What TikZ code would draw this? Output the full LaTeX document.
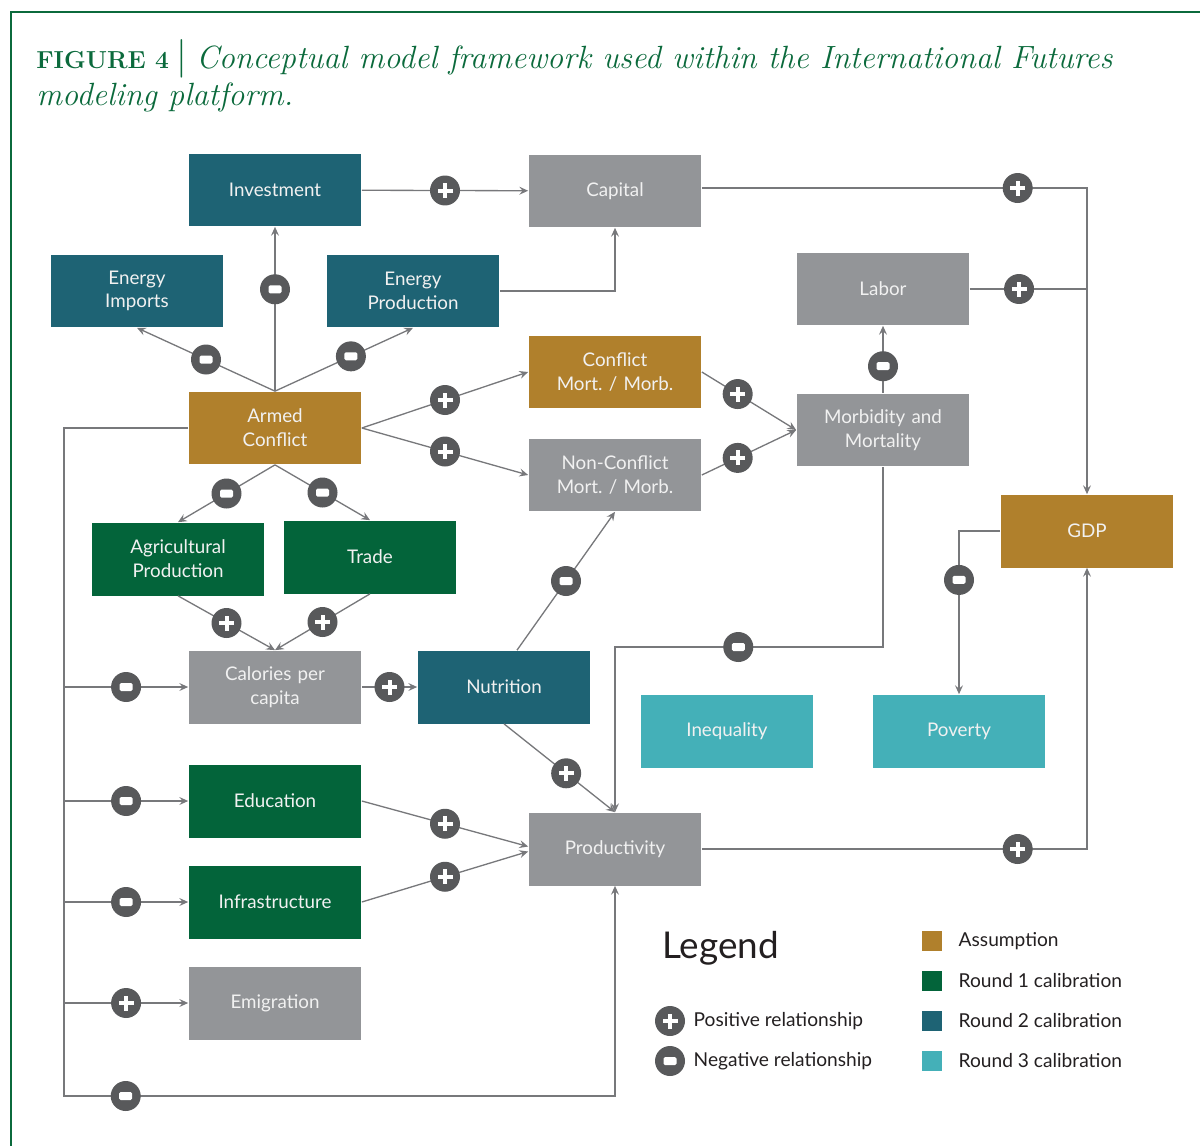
\documentclass[tikz,border=0pt]{standalone}
\usepackage{fontspec}
\newfontfamily\labelfont{Lato}
\usetikzlibrary{positioning,arrows.meta}

\definecolor{assumption}{HTML}{B0802C}
\definecolor{roundone}{HTML}{03643A}
\definecolor{roundtwo}{HTML}{1E6374}
\definecolor{roundthree}{HTML}{44B0B8}
\definecolor{varbox}{HTML}{939598}
\definecolor{signgray}{HTML}{58595B}
\definecolor{linkgray}{HTML}{77787B}
\definecolor{titlegreen}{HTML}{0B6A3C}
\definecolor{boxtext}{HTML}{F1F1F1}
\definecolor{legendtext}{HTML}{231F20}

\begin{document}
\begin{tikzpicture}[x=0.02cm,y=-0.02cm,>={Stealth[length=5pt,width=4.5pt,inset=1.8pt]}]
  \tikzstyle{box}=[rectangle, minimum width=3.46cm, minimum height=1.46cm, text width=3.2cm,
    align=center, inner sep=0pt, text=boxtext, font=\labelfont\fontsize{10.7}{13.5}\selectfont\frenchspacing]
  \tikzstyle{assume}=[box, fill=assumption]
  \tikzstyle{round1}=[box, fill=roundone]
  \tikzstyle{round2}=[box, fill=roundtwo]
  \tikzstyle{round3}=[box, fill=roundthree]
  \tikzstyle{grey}=[box, fill=varbox]
  \tikzstyle{sign}=[circle, fill=signgray, minimum size=0.6cm, inner sep=0pt]
  \tikzstyle{plus}=[sign, path picture={
      \fill[white] ([xshift=-0.15cm,yshift=-0.04cm]path picture bounding box.center) rectangle ([xshift=0.15cm,yshift=0.04cm]path picture bounding box.center);
      \fill[white] ([xshift=-0.04cm,yshift=-0.15cm]path picture bounding box.center) rectangle ([xshift=0.04cm,yshift=0.15cm]path picture bounding box.center);}]
  \tikzstyle{minus}=[sign, path picture={
      \fill[white, rounded corners=0.03cm] ([xshift=-0.13cm,yshift=-0.08cm]path picture bounding box.center) rectangle ([xshift=0.13cm,yshift=0.08cm]path picture bounding box.center);}]
  \tikzstyle{wire}=[draw=linkgray, line width=0.75pt]
  \tikzstyle{link}=[wire, ->]
  \tikzstyle{legend text}=[inner sep=0pt, text=legendtext, font=\labelfont\fontsize{10.9}{13}\selectfont]
  \tikzstyle{swatch}=[rectangle, minimum size=0.4cm, inner sep=0pt]

  \useasboundingbox (0,0) rectangle (1200,1146);

  % frame and caption
  \draw[titlegreen, line width=1pt] (1200,12) -- (11,12) -- (11,1146);
  \node[anchor=base west, inner sep=0pt, text=titlegreen] (title1) at (36,68)
    {{\bfseries\fontsize{14}{16}\selectfont\addfontfeatures{LetterSpace=15}FIGURE 4}\hspace{0.45em}{\fontsize{22}{22}\selectfont|}\hspace{0.5em}{\itshape\fontsize{18.3}{22}\selectfont Conceptual model framework used within the International Futures}};
  \node[anchor=base west, inner sep=0pt, text=titlegreen] (title2) at (36,105)
    {\itshape\fontsize{18.3}{22}\selectfont modeling platform.};

  % variables
  \node[round2] (invest)  at (275,190)  {Investment};
  \node[grey]   (capital) at (615,191)  {Capital};
  \node[round2] (eimp)    at (137,291)  {Energy\\Imports};
  \node[round2] (eprod)   at (413,291)  {Energy\\Production};
  \node[grey]   (labor)   at (883,289)  {Labor};
  \node[assume] (conmort) at (615,372)  {Conflict\\Mort. / Morb.};
  \node[assume] (armed)   at (275,428)  {Armed\\Conflict};
  \node[grey]   (nonmort) at (615,475)  {Non-Conflict\\Mort. / Morb.};
  \node[grey]   (morb)    at (883,430)  {Morbidity and\\Mortality};
  \node[assume] (gdp)     at (1087,531) {GDP};
  \node[round1] (agri)    at (178,559)  {Agricultural\\Production};
  \node[round1] (trade)   at (370,557)  {Trade};
  \node[grey]   (cal)     at (275,687)  {Calories per\\capita};
  \node[round2] (nutr)    at (504,687)  {Nutrition};
  \node[round3] (ineq)    at (727,731)  {Inequality};
  \node[round3] (pov)     at (959,731)  {Poverty};
  \node[round1] (edu)     at (275,801)  {Education};
  \node[grey]   (prod)    at (615,849)  {Productivity};
  \node[round1] (infra)   at (275,902)  {Infrastructure};
  \node[grey]   (emig)    at (275,1003) {Emigration};

  \coordinate (kink)    at (883,647);
  \coordinate (bustop)  at (64,428);
  \coordinate (busend)  at (64,1096);

  % straight links
  \path[->, every edge/.style={wire}]
  (invest)       edge node[plus] {} (capital)
  (armed.north)  edge node[minus, pos=0.62] {} (invest.south)
                 edge node[minus] {} (eimp.south)
                 edge node[minus, pos=0.55] {} (eprod.south)
  (armed.east)   edge node[plus] {} (conmort.west)
                 edge node[plus] {} (nonmort.west)
  (conmort.east) edge node[plus, pos=0.38] {} (morb.west)
  (nonmort.east) edge node[plus, pos=0.38] {} (morb.west)
  (morb.north)   edge node[minus, pos=0.4] {} (labor.south)
  (armed.south)  edge node[minus] {} (agri.north)
                 edge node[minus] {} (trade.north)
  (agri.south)   edge node[plus] {} (cal.north)
  (trade.south)  edge node[plus] {} (cal.north)
  (cal)          edge node[plus] {} (nutr)
  ([xshift=0.26cm]nutr.north) edge node[minus] {} (nonmort.south)
  (nutr.south)   edge node[plus, pos=0.56] {} (prod.north)
  (edu.east)     edge node[plus] {} ([yshift=0.05cm]prod.west)
  (infra.east)   edge node[plus] {} ([yshift=-0.05cm]prod.west);

  % elbow links
  \draw[link] (eprod.east) -| (capital.south);
  \draw[link] ([yshift=0.06cm]capital.east) -| node[plus, pos=0.41] {} (gdp.north);
  \draw[wire] (labor.east) -- node[plus, pos=0.42] {} (labor.east -| gdp.north);
  \draw[link] (morb.south) -- (kink) -| node[minus, pos=0.27] {} (prod.north);
  \draw[link] (prod.east) -| node[plus, pos=0.41] {} (gdp.south);
  \draw[link] (gdp.west) -| node[minus, pos=0.65] {} (pov.north);

  % feedback bus from armed conflict
  \draw[link] (armed.west) -- (bustop) -- (busend) -| node[minus, pos=0.056] {} (prod.south);
  \draw[link] (bustop |- cal.west) -- node[minus] {} (cal.west);
  \draw[link] (bustop |- edu.west) -- node[minus] {} (edu.west);
  \draw[link] (bustop |- infra.west) -- node[minus] {} (infra.west);
  \draw[link] (bustop |- emig.west) -- node[plus] {} (emig.west);

  % legend
  \node[anchor=base west, inner sep=0pt, text=legendtext, font=\labelfont\fontsize{21}{24}\selectfont] (legend) at (662,958) {Legend};
  \node[plus]  (posleg) at (670,1021) {};
  \node[minus] (negleg) at (670,1061) {};
  \node[legend text, right=0.16cm of posleg] (postext) {Positive relationship};
  \node[legend text, right=0.16cm of negleg] (negtext) {Negative relationship};
  \node[swatch, fill=assumption] (sw0) at (932,941)  {};
  \node[swatch, fill=roundone]   (sw1) at (932,981)  {};
  \node[swatch, fill=roundtwo]   (sw2) at (932,1021) {};
  \node[swatch, fill=roundthree] (sw3) at (932,1061) {};
  \node[legend text, right=0.32cm of sw0] {Assumption};
  \node[legend text, right=0.32cm of sw1] {Round 1 calibration};
  \node[legend text, right=0.32cm of sw2] {Round 2 calibration};
  \node[legend text, right=0.32cm of sw3] {Round 3 calibration};
\end{tikzpicture}
\end{document}
